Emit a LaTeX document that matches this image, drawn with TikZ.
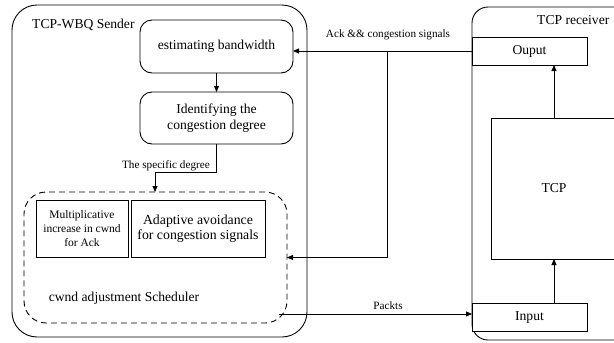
\documentclass[tikz,border=0pt]{standalone}
\usepackage{fontspec}
\setmainfont{Liberation Serif}
\usetikzlibrary{arrows.meta}
\tikzset{
  box/.style={draw, line width=0.9pt, inner sep=0pt, outer sep=0pt, align=center, fill=white},
  rbox/.style={box, rounded corners=12pt},
  big/.style={font=\fontsize{13.6}{16.5}\selectfont},
  mid/.style={font=\fontsize{11.5}{14}\selectfont},
  small/.style={font=\fontsize{11.2}{13}\selectfont},
  conn/.style={line width=0.9pt},
  arr/.style={conn, -{Triangle[length=6pt,width=5pt]}},
}
\begin{document}
\begin{tikzpicture}[x=1pt,y=-1pt]
\useasboundingbox (0,0) rectangle (614,343);
\clip (0,0) rectangle (614,343);
\fill[white] (0,0) rectangle (614,343);
% sender
\node[box, rounded corners=25pt, minimum width=295pt, minimum height=332pt] (sender) at (159.5,171) {};
\node[big, anchor=west, inner sep=0pt] (stitle) at (32,25) {TCP-WBQ Sender};
\node[rbox, big, minimum width=153pt, minimum height=53pt] (est) at (216.5,46.5) {estimating bandwidth};
\node[rbox, big, minimum width=153pt, minimum height=52pt] (ident) at (216.5,118) {Identifying the\\congestion degree};
\node[box, fill=none, dash pattern=on 6pt off 4pt, rounded corners=22pt, minimum width=263pt, minimum height=131pt] (sched) at (155.5,257.5) {};
\node[box, mid, minimum width=92pt, minimum height=57pt, font=\fontsize{11.5}{14}\selectfont] (mult) at (82,228.5) {Multiplicative\\increase in cwnd\\for Ack};
\node[box, big, minimum width=134pt, minimum height=57pt, font=\fontsize{13.8}{15.5}\selectfont] (adapt) at (198,228.5) {Adaptive avoidance\\for congestion signals};
\node[big, inner sep=0pt] (schedlabel) at (124,298) {cwnd adjustment Scheduler};
% receiver
\node[box, rounded corners=16pt, minimum width=178pt, minimum height=333pt] (recv) at (561,173.5) {};
\node[big, anchor=west, inner sep=0pt] (rtitle) at (537,20) {TCP receiver};
\node[box, big, minimum width=115pt, minimum height=28pt] (ouput) at (529.5,51) {Ouput};
\node[box, big, minimum width=126pt, minimum height=141pt] (tcp) at (554,188.5) {TCP};
\node[box, big, minimum width=115pt, minimum height=28pt] (input) at (529.5,317) {Input};
% connectors
\draw[arr] (est.south) -- (ident.north);
\coordinate (sd) at (155,172);
\draw[arr] (ident.south) |- (sd) -- (sd |- sched.north);
\node[small, anchor=east, inner sep=0pt] (speclabel) at (210,166) {The specific degree};
\draw[arr] (ouput.west) -- (ouput.west -| est.east);
\coordinate (br) at (387,51);
\draw[arr] (br) |- (sched.east);
\node[small, inner sep=0pt] (acklabel) at (388,35) {Ack \&\& congestion signals};
\coordinate (ps) at (279,314);
\draw[arr] (ps) -- (ps -| input.west);
\node[small, inner sep=0pt] (pktlabel) at (388,306) {Packts};
\draw[arr] (tcp.north) -- (tcp.north |- ouput.south);
\draw[arr] (tcp.south |- input.north) -- (tcp.south);
\end{tikzpicture}
\end{document}
